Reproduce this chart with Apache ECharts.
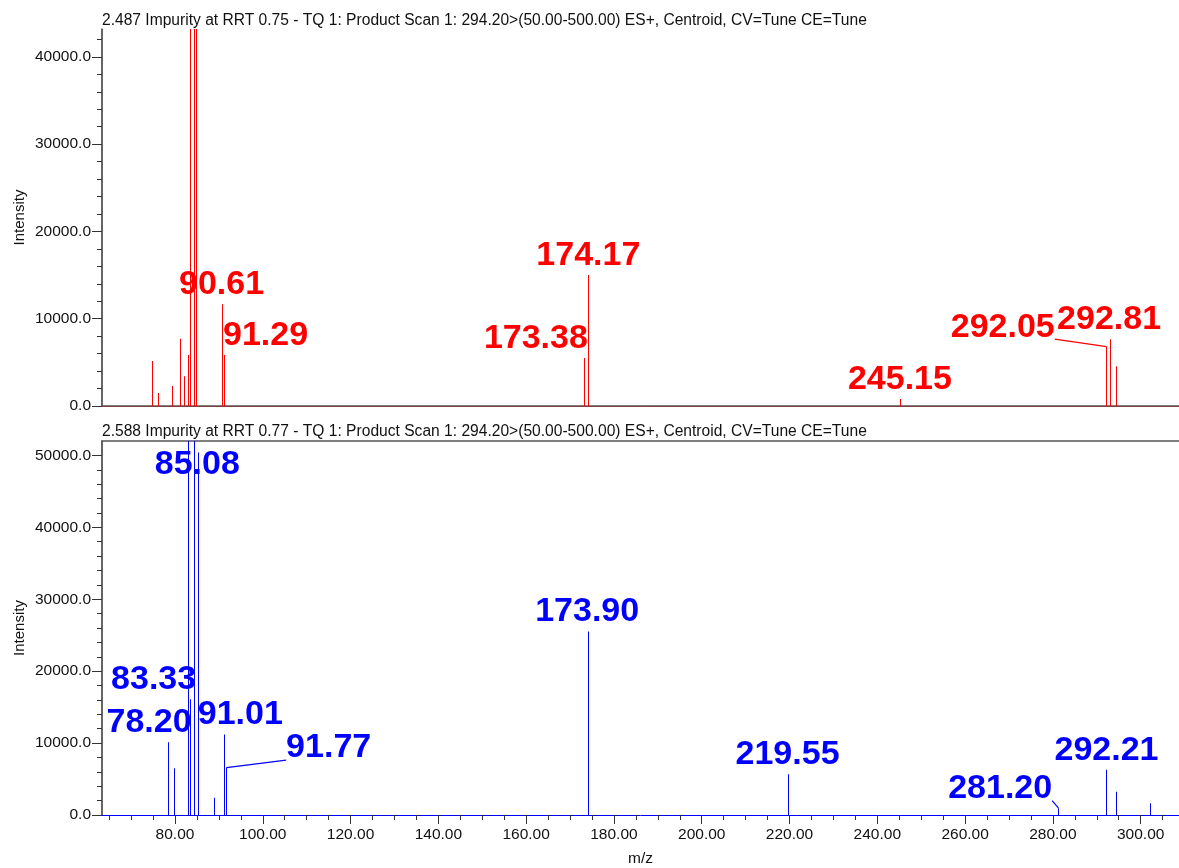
<!DOCTYPE html>
<html>
<head>
<meta charset="utf-8">
<script src="https://cdn.jsdelivr.net/npm/echarts@6/dist/echarts.min.js"></script>
<style>
html,body{margin:0;padding:0;background:#fff;}
#chart{width:1179px;height:868px;}
</style>
</head>
<body>
<div id="chart"></div>
<script>
// ---------------- DATA ----------------
const titleTop = '2.487 Impurity at RRT 0.75 - TQ 1: Product Scan 1: 294.20>(50.00-500.00) ES+, Centroid, CV=Tune CE=Tune';
const titleBottom = '2.588 Impurity at RRT 0.77 - TQ 1: Product Scan 1: 294.20>(50.00-500.00) ES+, Centroid, CV=Tune CE=Tune';

const mzTop  = [74.85, 75.97, 79.30, 81.30, 81.90, 82.80, 83.40, 84.20, 84.75, 90.61, 91.29, 173.38, 174.17, 245.15, 292.05, 292.81, 294.20];
const intTop = [5150, 1500, 2300, 7700, 3400, 5850, 120000, 100000, 90000, 11650, 5850, 5500, 15000, 800, 6800, 7650, 4550];
const labelsTop = ['90.61', '91.29', '173.38', '174.17', '245.15', '292.05', '292.81'];

const mzBot  = [78.20, 79.60, 83.00, 83.33, 84.20, 85.08, 88.80, 91.01, 91.77, 173.90, 219.55, 281.20, 292.21, 294.20, 302.10];
const intBot = [10100, 6500, 90000, 16100, 80000, 50400, 2400, 11200, 6600, 25500, 5650, 950, 6300, 3250, 1650];
const labelsBot = ['85.08', '83.33', '78.20', '91.01', '91.77', '173.90', '219.55', '281.20', '292.21'];

const xMin = 63.37, xMax = 308.73;
const yMaxTop = 43200, yMaxBot = 52000;
const xMajorTicks = [80, 100, 120, 140, 160, 180, 200, 220, 240, 260, 280, 300];
const xMinorTicks = [65, 70, 75, 80, 85, 90, 95, 100, 105, 110, 115, 120, 125, 130, 135, 140, 145, 150, 155, 160, 165, 170, 175, 180, 185, 190, 195, 200, 205, 210, 215, 220, 225, 230, 235, 240, 245, 250, 255, 260, 265, 270, 275, 280, 285, 290, 295, 300, 305];
const yMajorTop = [0, 10000, 20000, 30000, 40000];
const yMajorBot = [0, 10000, 20000, 30000, 40000, 50000];
const yMinorTop = [0, 2000, 4000, 6000, 8000, 10000, 12000, 14000, 16000, 18000, 20000, 22000, 24000, 26000, 28000, 30000, 32000, 34000, 36000, 38000, 40000, 42000];
const yMinorBot = [0, 2000, 4000, 6000, 8000, 10000, 12000, 14000, 16000, 18000, 20000, 22000, 24000, 26000, 28000, 30000, 32000, 34000, 36000, 38000, 40000, 42000, 44000, 46000, 48000, 50000];

// ---------------- STYLE ----------------
const FONT = '"Liberation Sans", Arial, sans-serif';
const LABEL_FONT = 'bold 34px "Liberation Sans", Arial, sans-serif';
const RED = '#ff0000', BLUE = '#0000ff', AXIS = '#333333', TEXT = '#111111';
// label placement (pixel offsets of label centre from its peak)
const layoutTop = {'91.29': {dx: 41}, '173.38': {dx: -49}, '292.05': {dx: -103, lead: true}};
const layoutBot = {'83.33': {dx: -36}, '78.20': {dx: -18}, '91.01': {dx: 17}, '91.77': {dx: 102, lead: true}, '281.20': {dx: -58, lead: true}};
const LABEL_DY = -19.5, LABEL_CLAMP = 24;

const measureCtx = document.createElement('canvas').getContext('2d');
function textWidth(t) { measureCtx.font = LABEL_FONT; return measureCtx.measureText(t).width; }

function makeRender(color, labels, layout) {
  return function (params, api) {
    const mz = api.value(0), it = api.value(1);
    const cs = params.coordSys;
    const p0 = api.coord([mz, 0]);
    const p1 = api.coord([mz, it]);
    const top = Math.max(p1[1], cs.y);
    // snap stick to an even pixel column so thin coloured sticks stay crisp
    const x = 2 * Math.round(p0[0] / 2);
    const children = [{
      type: 'rect', z2: 1, silent: true,
      shape: {x: x, y: top, width: 1, height: p0[1] - top},
      style: {fill: color, stroke: null, lineWidth: 0}
    }];
    const key = mz.toFixed(2);
    if (labels.indexOf(key) >= 0) {
      const L = layout[key] || {};
      const dx = L.dx || 0;
      const cx = p1[0] + dx;
      const cy = Math.max(top + LABEL_DY, cs.y + LABEL_CLAMP);
      children.push({
        type: 'text', z2: 10, x: cx, y: cy, silent: true,
        style: {text: key, fill: color, font: LABEL_FONT, align: 'center', verticalAlign: 'middle'}
      });
      if (L.lead) {
        const w = textWidth(key);
        const ex = dx < 0 ? cx + w / 2 : cx - w / 2;
        children.push({
          type: 'polyline', z2: 2, silent: true,
          shape: {points: [[x + 0.5, top], [ex, cy + 12]]},
          style: {stroke: color, fill: null, lineWidth: 1.2}
        });
      }
    }
    return {type: 'group', children: children};
  };
}

const grids = [
  {left: 102, right: 0, top: 29, height: 377},
  {left: 102, right: 0, top: 441, height: 377}
];

const baseX = {type: 'value', min: xMin, max: xMax, splitLine: {show: false}};
const xAxis = [
  Object.assign({}, baseX, {gridIndex: 0, position: 'bottom', axisLine: {show: true, lineStyle: {color: RED, width: 1}}, axisTick: {show: false}, axisLabel: {show: false}}),
  Object.assign({}, baseX, {gridIndex: 0, position: 'top', axisLine: {show: true, lineStyle: {color: '#555', width: 1.5}}, axisTick: {show: false}, axisLabel: {show: false}}),
  Object.assign({}, baseX, {gridIndex: 1, position: 'bottom', axisLine: {show: true, lineStyle: {color: BLUE, width: 1}}, axisTick: {show: true, length: 5, customValues: xMinorTicks, lineStyle: {color: AXIS}}, axisLabel: {show: false}}),
  Object.assign({}, baseX, {gridIndex: 1, position: 'bottom', axisLine: {show: false}, axisTick: {show: true, length: 9, customValues: xMajorTicks, lineStyle: {color: AXIS}},
    axisLabel: {show: true, customValues: xMajorTicks, margin: 12, color: TEXT, fontFamily: FONT, fontSize: 15.5, formatter: v => v.toFixed(2)},
    name: 'm/z', nameLocation: 'middle', nameGap: 36, nameMoveOverlap: false, nameTextStyle: {color: TEXT, fontFamily: FONT, fontSize: 15.5}}),
  Object.assign({}, baseX, {gridIndex: 1, position: 'top', axisLine: {show: true, lineStyle: {color: '#555', width: 1.5}}, axisTick: {show: false}, axisLabel: {show: false}})
];

function yPair(gi, max, minor, major) {
  return [
    {type: 'value', gridIndex: gi, position: 'left', min: 0, max: max, splitLine: {show: false},
      axisLine: {show: true, lineStyle: {color: AXIS, width: 1.5}},
      axisTick: {show: true, length: 5, customValues: minor, lineStyle: {color: AXIS}},
      axisLabel: {show: false}},
    {type: 'value', gridIndex: gi, position: 'left', offset: 0, min: 0, max: max, splitLine: {show: false},
      axisLine: {show: false},
      axisTick: {show: true, length: 10, customValues: major, lineStyle: {color: AXIS}},
      axisLabel: {show: true, customValues: major, margin: 11, color: TEXT, fontFamily: FONT, fontSize: 15.5, formatter: v => v.toFixed(1)},
      name: 'Intensity', nameLocation: 'middle', nameRotate: 90, nameGap: 75, nameMoveOverlap: false,
      nameTextStyle: {color: TEXT, fontFamily: FONT, fontSize: 15}}
  ];
}
const yAxis = yPair(0, yMaxTop, yMinorTop, yMajorTop).concat(yPair(1, yMaxBot, yMinorBot, yMajorBot));

const dataTop = mzTop.map((m, i) => [m, intTop[i]]);
const dataBot = mzBot.map((m, i) => [m, intBot[i]]);

const option = {
  animation: false,
  backgroundColor: '#fff',
  title: [
    {text: titleTop, left: 102, top: 13, padding: 0, textStyle: {color: TEXT, fontFamily: FONT, fontSize: 15.6, fontWeight: 'normal'}},
    {text: titleBottom, left: 102, top: 424, padding: 0, textStyle: {color: TEXT, fontFamily: FONT, fontSize: 15.6, fontWeight: 'normal'}}
  ],
  grid: grids,
  xAxis: xAxis,
  yAxis: yAxis,
  series: [
    {type: 'custom', xAxisIndex: 0, yAxisIndex: 0, data: dataTop, encode: {x: 0, y: 1}, itemStyle: {color: RED}, renderItem: makeRender(RED, labelsTop, layoutTop)},
    {type: 'custom', xAxisIndex: 2, yAxisIndex: 2, data: dataBot, encode: {x: 0, y: 1}, itemStyle: {color: BLUE}, renderItem: makeRender(BLUE, labelsBot, layoutBot)}
  ]
};

const chart = echarts.init(document.getElementById('chart'), null, {renderer: 'canvas'});
chart.setOption(option);
</script>
</body>
</html>
